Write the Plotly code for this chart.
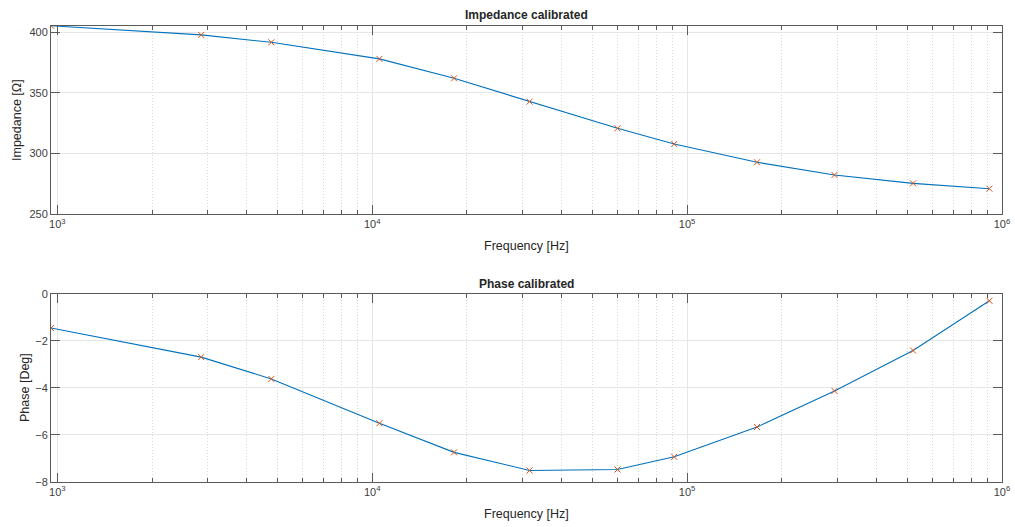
import numpy as np
import plotly.graph_objects as go
from plotly.subplots import make_subplots

# Data
freq_hz = [955, 2864, 4783, 10540, 18200, 31600, 60100, 91000, 166700, 293800, 522000, 912000]
impedance_ohm = [405.4, 397.8, 391.7, 378.0, 362.0, 342.7, 320.7, 307.8, 292.7, 282.2, 275.3, 270.9]
phase_deg = [-1.45, -2.69, -3.62, -5.51, -6.75, -7.52, -7.48, -6.94, -5.67, -4.13, -2.41, -0.29]

major_ticks = [1e3, 1e4, 1e5, 1e6]
major_text = ["10<sup>3</sup>", "10<sup>4</sup>", "10<sup>5</sup>", "10<sup>6</sup>"]
minor_ticks = [m * 10 ** d for d in range(3, 6) for m in range(2, 10)]

imp_ticks = [250, 300, 350, 400]
phase_ticks = [-8, -6, -4, -2, 0]

W, H = 1015, 527
L, R = 51, 13
LINE_C = "#0072BD"
MARK_C = "#D95319"
AX_C = "#5a5a5a"
TXT_C = "#404040"
FONT = "Liberation Sans, Arial, sans-serif"

fig = make_subplots(rows=2, cols=1)

for row, yv in [(1, impedance_ohm), (2, phase_deg)]:
    fig.add_trace(go.Scatter(x=freq_hz, y=yv, mode="lines",
                             line=dict(color=LINE_C, width=1.1),
                             showlegend=False, hoverinfo="skip"), row=row, col=1)
    fig.add_trace(go.Scatter(x=freq_hz, y=yv, mode="markers",
                             marker=dict(symbol="x-thin", size=6,
                                         line=dict(color=MARK_C, width=1)),
                             showlegend=False, cliponaxis=True), row=row, col=1)

def py(px):
    return 1 - px / H

xcommon = dict(
    type="log", range=[np.log10(freq_hz[0]), 6], automargin=False,
    tickvals=major_ticks, ticktext=major_text,
    ticks="inside", ticklen=9, tickcolor=AX_C, tickwidth=1,
    showline=True, linecolor=AX_C, linewidth=1, mirror="ticks",
    showgrid=True, gridcolor="#e6e6e6", gridwidth=1,
    zeroline=False,
    tickfont=dict(family=FONT, size=11, color=TXT_C),
    minor=dict(tickvals=minor_ticks, ticks="inside", ticklen=4,
               tickcolor=AX_C, showgrid=True, gridcolor="#d8d8d8",
               griddash="1px,2px", gridwidth=1),
)
fig.update_xaxes(**xcommon)

ycommon = dict(
    ticks="inside", ticklen=9, tickcolor=AX_C, tickwidth=1, automargin=False,
    showline=True, linecolor=AX_C, linewidth=1, mirror="ticks",
    showgrid=True, gridcolor="#e6e6e6", gridwidth=1, zeroline=False,
    tickfont=dict(family=FONT, size=11, color=TXT_C),
)
fig.update_yaxes(**ycommon)
fig.update_yaxes(range=[250, 405.4], tickvals=imp_ticks,
                 domain=[py(214), py(25.7)], row=1, col=1)
fig.update_yaxes(range=[-8, 0], tickvals=phase_ticks,
                 domain=[py(481.7), py(294)], row=2, col=1)
fig.update_xaxes(domain=[0, 1])

def xp(px):
    return (px - L) / (W - L - R)

annots = [
    dict(text="<b>Impedance calibrated</b>", x=0.5, y=py(15), size=12),
    dict(text="<b>Phase calibrated</b>", x=0.5, y=py(284), size=12),
    dict(text="Frequency [Hz]", x=0.5, y=py(246), size=12.5),
    dict(text="Frequency [Hz]", x=0.5, y=py(514), size=12.5),
]
for a in annots:
    fig.add_annotation(text=a["text"], x=a["x"], y=a["y"], xref="paper", yref="paper",
                       showarrow=False, xanchor="center", yanchor="middle",
                       font=dict(family=FONT, size=a["size"], color="#262626"))
for txt, xpix, ypix in [("Impedance [Ω]", 17, 120), ("Phase [Deg]", 25, 388)]:
    fig.add_annotation(text=txt, x=xp(xpix), y=py(ypix), xref="paper", yref="paper",
                       showarrow=False, textangle=-90, xanchor="center", yanchor="middle",
                       font=dict(family=FONT, size=12.5, color="#262626"))

fig.update_layout(
    width=W, height=H,
    margin=dict(l=L, r=R, t=0, b=0),
    paper_bgcolor="white", plot_bgcolor="white",
    font=dict(family=FONT),
)

fig.write_html("out.html")
